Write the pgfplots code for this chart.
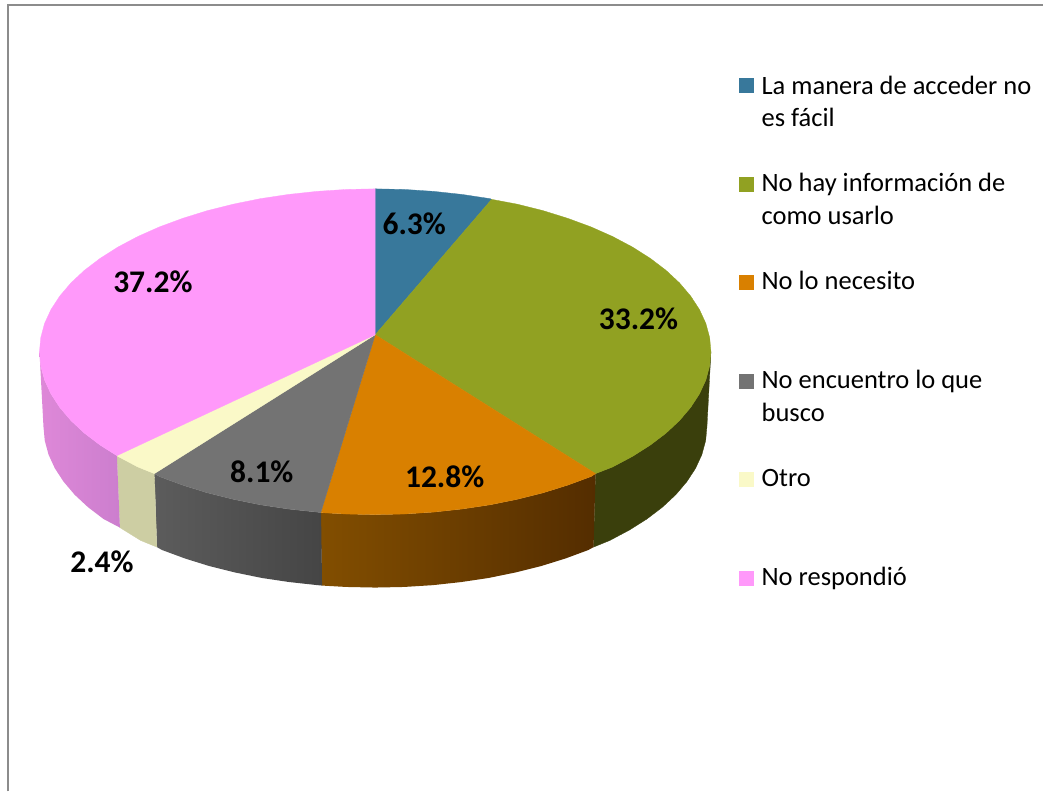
\documentclass[border=0pt]{standalone}
\usepackage{fontspec}
\setmainfont{Carlito}
\usepackage{pgfplots}
\pgfplotsset{compat=1.18}
\definecolor{cblue}{HTML}{38789B}
\definecolor{colive}{HTML}{91A122}
\definecolor{corange}{HTML}{D98000}
\definecolor{cgray}{HTML}{737373}
\definecolor{ccream}{HTML}{FAF9C8}
\definecolor{cpink}{HTML}{FF99FA}
\definecolor{wolive}{HTML}{3A3F0C}
\definecolor{worangeL}{HTML}{824E00}
\definecolor{worangeR}{HTML}{542D00}
\definecolor{wgrayL}{HTML}{5C5C5C}
\definecolor{wgrayR}{HTML}{454545}
\definecolor{wcream}{HTML}{CDCEA3}
\definecolor{wpinkL}{HTML}{DE88D8}
\definecolor{wpinkR}{HTML}{CC7ECE}
\definecolor{cframe}{HTML}{8C8C8C}
\begin{document}
\begin{tikzpicture}
\begin{axis}[
  hide axis, scale only axis, width=1044pt, height=792pt,
  xmin=0, xmax=1044, ymin=0, ymax=792, y dir=reverse,
  clip=false, anchor=south west, at={(0,0)}
]
% full page extent
\addplot[draw=none, forget plot] coordinates {(0,0)(1044,792)};
% frame
\addplot[cframe, line width=1.6pt, forget plot] coordinates {(8,792)(8,5)(1044,5)};
% side walls
\addplot[fill=wolive, draw=wolive, line width=.3pt, forget plot] coordinates {
(711.5,352)(710.2,366.2)(706.4,380.3)(700,394.2)(691.2,407.7)(680,420.9)(666.5,433.5)(650.7,445.5)(632.9,456.8)(613.1,467.3)(596,474)
(594,547.5)(610.2,540.9)(629.8,530.5)(647.4,519.4)(663,507.5)(676.3,495.1)(687.4,482)(696.1,468.7)(702.4,455)(706.2,441)(707.5,427)} --cycle;
\addplot[left color=worangeL, right color=worangeR, draw=none, forget plot] coordinates {
(596,474)(591.5,476.9)(568.2,485.5)(543.5,493.2)(517.5,499.7)(490.4,505.2)(462.5,509.4)(433.8,512.5)(404.8,514.4)(375.5,515)(346.2,514.4)(321,513)
(322,586)(346.5,587.4)(375.5,588)(404.5,587.4)(433.1,585.6)(461.5,582.5)(489,578.4)(515.8,572.9)(541.5,566.5)(565.9,558.9)(588.9,550.4)(594,547.5)} --cycle;
\addplot[left color=wgrayL, right color=wgrayR, draw=none, forget plot] coordinates {
(321.3,513)(317.2,512.5)(288.5,509.4)(260.6,505.2)(233.5,499.7)(207.5,493.2)(182.8,485.5)(159.5,476.9)(154.5,474)
(157,547.5)(162.1,550.4)(185.1,558.9)(209.5,566.5)(235.2,572.9)(262,578.4)(289.5,582.5)(317.9,585.6)(322.3,586)} --cycle;
\addplot[fill=wcream, draw=wcream, line width=.3pt, forget plot] coordinates {
(154.5,474)(137.9,467.3)(118.1,456.8)(117,456)(120,528)(140.8,540.9)(157,547.5)} --cycle;
\addplot[left color=wpinkL, right color=wpinkR, draw=none, forget plot] coordinates {
(117,456)(100.3,445.5)(84.5,433.5)(71,420.9)(59.8,407.7)(51,394.2)(44.6,380.3)(40.8,366.2)(39.5,352)
(43.5,427)(44.8,441)(48.6,455)(54.9,468.7)(63.6,482)(74.7,495.1)(88,507.5)(103.6,519.4)(120,528)} --cycle;
% top face
\addplot[fill=cblue, draw=cblue, line width=.3pt, forget plot] coordinates {
(375.5,335)(375.5,189)(404.8,189.6)(433.8,191.5)(462.5,194.6)(490.4,198.8)(492,199.5)} --cycle;
\addplot[fill=colive, draw=colive, line width=.3pt, forget plot] coordinates {
(375.5,335)(492,199.5)(517.5,204.3)(543.5,210.8)(568.2,218.5)(591.5,227.1)(613.1,236.7)(632.9,247.2)(650.7,258.5)(666.5,270.5)(680,283.1)(691.2,296.3)(700,309.8)(706.4,323.7)(710.2,337.8)(711.5,352)(710.2,366.2)(706.4,380.3)(700,394.2)(691.2,407.7)(680,420.9)(666.5,433.5)(650.7,445.5)(632.9,456.8)(613.1,467.3)(596,474)} --cycle;
\addplot[fill=corange, draw=corange, line width=.3pt, forget plot] coordinates {
(375.5,335)(596,474)(591.5,476.9)(568.2,485.5)(543.5,493.2)(517.5,499.7)(490.4,505.2)(462.5,509.4)(433.8,512.5)(404.8,514.4)(375.5,515)(346.2,514.4)(321,513)} --cycle;
\addplot[fill=cgray, draw=cgray, line width=.3pt, forget plot] coordinates {
(375.5,335)(321,513)(317.2,512.5)(288.5,509.4)(260.6,505.2)(233.5,499.7)(207.5,493.2)(182.8,485.5)(159.5,476.9)(154.5,474)} --cycle;
\addplot[fill=ccream, draw=ccream, line width=.3pt, forget plot] coordinates {
(375.5,335)(154.5,474)(137.9,467.3)(118.1,456.8)(117,456)} --cycle;
\addplot[fill=cpink, draw=cpink, line width=.3pt, forget plot] coordinates {
(375.5,335)(117,456)(100.3,445.5)(84.5,433.5)(71,420.9)(59.8,407.7)(51,394.2)(44.6,380.3)(40.8,366.2)(39.5,352)(40.8,337.8)(44.6,323.7)(51,309.8)(59.8,296.3)(71,283.1)(84.5,270.5)(100.3,258.5)(118.1,247.2)(137.9,236.7)(159.5,227.1)(182.8,218.5)(207.5,210.8)(233.5,204.3)(260.6,198.8)(288.5,194.6)(317.2,191.5)(346.2,189.6)(375.5,189)} --cycle;
% data labels
\tikzset{dl/.style={font=\fontsize{31.5}{32}\selectfont\bfseries, inner sep=0pt}}
\node[dl] at (axis cs:414.5,224) {6.3\%};
\node[dl] at (axis cs:639,319) {33.2\%};
\node[dl] at (axis cs:445,477) {12.8\%};
\node[dl] at (axis cs:262,472) {8.1\%};
\node[dl] at (axis cs:102,562) {2.4\%};
\node[dl] at (axis cs:153,282) {37.2\%};
% legend swatches
\addplot[fill=cblue, draw=none, forget plot] coordinates {(740,78)(755,78)(755,93)(740,93)} --cycle;
\addplot[fill=colive, draw=none, forget plot] coordinates {(740,177)(755,177)(755,192)(740,192)} --cycle;
\addplot[fill=corange, draw=none, forget plot] coordinates {(740,275)(755,275)(755,290)(740,290)} --cycle;
\addplot[fill=cgray, draw=none, forget plot] coordinates {(740,374)(755,374)(755,389)(740,389)} --cycle;
\addplot[fill=ccream, draw=none, forget plot] coordinates {(740,472)(755,472)(755,487)(740,487)} --cycle;
\addplot[fill=cpink, draw=none, forget plot] coordinates {(740,571)(755,571)(755,586)(740,586)} --cycle;
% legend text
\tikzset{lt/.style={anchor=base west, inner sep=0pt, font=\fontsize{26.5}{27}\selectfont}}
\node[lt] at (axis cs:762,95) {La manera de acceder no};
\node[lt] at (axis cs:762,127) {es fácil};
\node[lt] at (axis cs:762,192) {No hay información de};
\node[lt] at (axis cs:762,225) {como usarlo};
\node[lt] at (axis cs:762,290) {No lo necesito};
\node[lt] at (axis cs:762,389) {No encuentro lo que};
\node[lt] at (axis cs:762,422) {busco};
\node[lt] at (axis cs:762,487) {Otro};
\node[lt] at (axis cs:762,586) {No respondió};
\end{axis}
\end{tikzpicture}
\end{document}
